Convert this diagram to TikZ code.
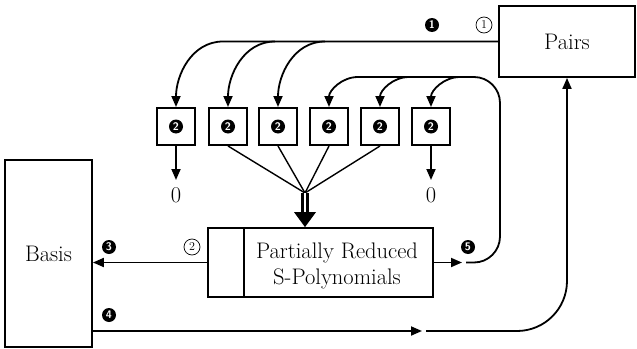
\documentclass[tikz,border=0pt]{standalone}
\usetikzlibrary{arrows.meta,calc}
\begin{document}
\begin{tikzpicture}[x=1pt,y=-1pt,
  line width=1.8pt,
  tip/.style={-{Triangle[length=11pt,width=9pt]}},
  bigfont/.style={font=\fontsize{22.5}{26}\selectfont},
  bigbox/.style={draw,rectangle,inner sep=0,bigfont},
  redbox/.style={draw,rectangle,line width=2pt,minimum width=38pt,minimum height=37pt,inner sep=0},
  blk/.style={circle,fill=black,text=white,inner sep=0,minimum size=14pt,
    font=\fontsize{11}{11}\selectfont\sffamily\bfseries},
  wht/.style={circle,draw,line width=0.7pt,inner sep=0,minimum size=16pt,
    font=\fontsize{12}{12}\selectfont},
  zero/.style={bigfont,inner sep=0}]
\useasboundingbox (0,0) rectangle (637,348);

% main boxes
\node[bigbox,minimum width=136pt,minimum height=71pt] (pairs) at (567,41.5) {Pairs};
\node[bigbox,minimum width=87pt,minimum height=187pt] (basis) at (48.5,253.5) {Basis};
\node[bigbox,minimum width=225pt,minimum height=69pt] (partial) at (320.5,262.5) {};
\draw[line width=2.6pt] ($(partial.north west)+(37,0)$) -- ($(partial.south west)+(37,0)$);
\node[bigfont,align=center,inner sep=0] (ptext) at (337,266)
  {\baselineskip=31pt Partially Reduced\\S-Polynomials};

% reduction boxes
\foreach \i/\x in {1/176,2/228,3/278,4/329,5/380,6/431}{
  \node[redbox] (r\i) at (\x,126.5) {};
  \node[blk] (n\i) at (r\i) {2};
}

% step markers
\node[blk] (s1) at (432,25) {1};
\node[wht] (c1) at (484,25) {1};
\node[wht] (c2) at (192,247) {2};
\node[blk] (s3) at (109,247) {3};
\node[blk] (s4) at (109,315) {4};
\node[blk] (s5) at (468,247) {5};

% pairs fed to the reducers
\draw[tip] (pairs.west) -- (223,41.5) to[out=180,in=90] (r1.north);
\draw[tip] (275,41.5) to[out=180,in=90] (r2.north);
\draw[tip] (325,41.5) to[out=180,in=90] (r3.north);

% reducers that end in zero
\node[zero] (z1) at (176,195) {0};
\node[zero] (z6) at (431,195) {0};
\coordinate (z1a) at (176,180);
\coordinate (z6a) at (431,180);
\draw[tip] (r1.south) -- (z1a);
\draw[tip] (r6.south) -- (z6a);

% merging into the partial set
\coordinate (conv) at (305,193);
\foreach \i in {2,3,4,5} \draw[line width=1.4pt] (r\i.south) -- (conv);
\coordinate (dtip) at (partial.north -| conv);
\draw[line width=3.5pt,double=white,double distance=1.8pt] (conv) -- ($(dtip)+(0,-14)$);
\fill ($(dtip)+(-11,-15)$) -- ($(dtip)+(11,-15)$) -- (dtip) -- cycle;

% partial -> basis
\draw[tip] (partial.west) -- (basis.east |- partial.west);

% partial -> back to the reducers
\coordinate (m5) at (462,262.5);
\coordinate (k5) at (466,262.5);
\draw[tip] (partial.east) -- (m5);
\draw[rounded corners=26pt] (k5) -- (500,262.5) -- (500,77) -- (357,77);
\draw[tip] (358,77) to[out=180,in=90] (r4.north);
\draw[tip] (409,77) to[out=180,in=90] (r5.north);
\draw[tip] (460,77) to[out=180,in=90] (r6.north);

% basis -> new pairs
\coordinate (b0) at (basis.east |- 0,331);
\coordinate (m4) at (422,331);
\coordinate (k4) at (426,331);
\draw[tip] (b0) -- (m4);
\draw[tip,rounded corners=50pt] (k4) -- (567,331) -- (pairs.south);
\end{tikzpicture}
\end{document}
